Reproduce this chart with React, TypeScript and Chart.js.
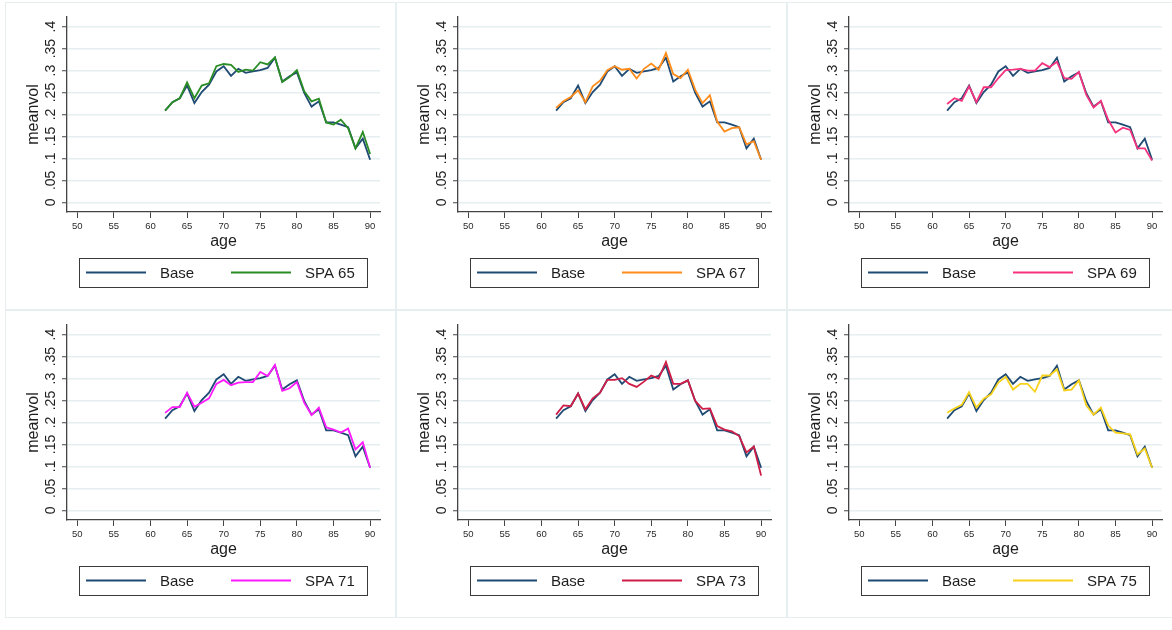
import React, { useEffect, useRef } from "react";
import { Chart, registerables } from "chart.js";

Chart.register(...registerables);

// ---------- data ----------
const AGES = [62, 63, 64, 65, 66, 67, 68, 69, 70, 71, 72, 73, 74, 75, 76, 77, 78, 79, 80, 81, 82, 83, 84, 85, 86, 87, 88, 89, 90];

const BASE = [0.209, 0.228, 0.237, 0.266, 0.226, 0.251, 0.268, 0.298, 0.31, 0.288, 0.304, 0.295, 0.298, 0.301, 0.306, 0.329, 0.275, 0.287, 0.296, 0.249, 0.218, 0.23, 0.182, 0.182, 0.177, 0.171, 0.123, 0.145, 0.097];
const SPA65 = [0.209, 0.228, 0.237, 0.273, 0.237, 0.266, 0.271, 0.31, 0.315, 0.313, 0.297, 0.302, 0.3, 0.319, 0.314, 0.33, 0.274, 0.285, 0.301, 0.253, 0.23, 0.236, 0.182, 0.177, 0.188, 0.169, 0.123, 0.16, 0.11];
const SPA67 = [0.215, 0.23, 0.24, 0.255, 0.228, 0.264, 0.277, 0.301, 0.31, 0.302, 0.304, 0.282, 0.304, 0.316, 0.302, 0.34, 0.292, 0.283, 0.302, 0.256, 0.226, 0.244, 0.184, 0.161, 0.169, 0.171, 0.132, 0.139, 0.097];
const SPA69 = [0.224, 0.237, 0.231, 0.264, 0.228, 0.262, 0.262, 0.283, 0.301, 0.302, 0.304, 0.3, 0.3, 0.317, 0.308, 0.32, 0.283, 0.281, 0.297, 0.245, 0.216, 0.231, 0.188, 0.159, 0.17, 0.165, 0.123, 0.123, 0.095];
const SPA71 = [0.222, 0.235, 0.235, 0.268, 0.236, 0.245, 0.255, 0.288, 0.297, 0.285, 0.291, 0.292, 0.292, 0.315, 0.306, 0.331, 0.272, 0.278, 0.292, 0.245, 0.217, 0.234, 0.189, 0.184, 0.177, 0.186, 0.139, 0.155, 0.097];
const SPA73 = [0.218, 0.239, 0.237, 0.266, 0.23, 0.255, 0.268, 0.297, 0.297, 0.301, 0.288, 0.281, 0.293, 0.307, 0.3, 0.338, 0.288, 0.288, 0.296, 0.249, 0.231, 0.232, 0.192, 0.184, 0.18, 0.169, 0.132, 0.145, 0.079];
const SPA75 = [0.222, 0.232, 0.24, 0.269, 0.234, 0.254, 0.264, 0.291, 0.304, 0.275, 0.288, 0.288, 0.27, 0.307, 0.307, 0.321, 0.273, 0.275, 0.296, 0.239, 0.218, 0.234, 0.193, 0.177, 0.175, 0.173, 0.127, 0.141, 0.097];

const SCENARIOS = ["SPA 65", "SPA 67", "SPA 69", "SPA 71", "SPA 73", "SPA 75"];
const SCENARIO_VALUES = [SPA65, SPA67, SPA69, SPA71, SPA73, SPA75];
const SCENARIO_COLORS = ["#2a8c25", "#ff8c1a", "#f5337f", "#ff1aff", "#cf1d48", "#f8d21a"];
const BASE_LABEL = "Base";
const BASE_COLOR = "#1f4a73";

const X_TICKS = [50, 55, 60, 65, 70, 75, 80, 85, 90];
const Y_TICKS = [0, 0.05, 0.1, 0.15, 0.2, 0.25, 0.3, 0.35, 0.4];
const Y_TICK_LABELS = ["0", ".05", ".1", ".15", ".2", ".25", ".3", ".35", ".4"];
const X_TITLE = "age";
const Y_TITLE = "meanvol";

const FONT = "'Liberation Sans', Arial, Helvetica, sans-serif";

// ---------- layout ----------
const PANEL_W = 391;
const PANEL_H = 308;
const CANVAS_W = PANEL_W - 2;
const CANVAS_H = PANEL_H - 2;

const decorPlugin = {
  id: "decor",
  afterDraw(chart: any) {
    const { ctx, chartArea, scales } = chart;
    const ys = scales.y;
    const o = chart.options.plugins.decor;
    ctx.save();
    ctx.fillStyle = "#1e1e1e";
    // y tick labels (rotated)
    ctx.font = `14px ${FONT}`;
    ctx.textAlign = "center";
    ctx.textBaseline = "middle";
    Y_TICKS.forEach((v, i) => {
      const py = ys.getPixelForValue(v);
      ctx.save();
      ctx.translate(chartArea.left - 16, py);
      ctx.rotate(-Math.PI / 2);
      ctx.fillText(Y_TICK_LABELS[i], 0, 0);
      ctx.restore();
    });
    // y title
    ctx.font = `16px ${FONT}`;
    ctx.save();
    ctx.translate(chartArea.left - 33, (chartArea.top + chartArea.bottom) / 2);
    ctx.rotate(-Math.PI / 2);
    ctx.fillText(Y_TITLE, 0, 0);
    ctx.restore();
    // x title
    const cx = (chartArea.left + chartArea.right) / 2;
    ctx.fillText(X_TITLE, cx, chartArea.bottom + 30);
    // legend
    const bx = chartArea.left + 12;
    const by = chartArea.bottom + 46;
    const bw = 288;
    const bh = 29;
    ctx.strokeStyle = "#3a3a3a";
    ctx.lineWidth = 1;
    ctx.strokeRect(Math.round(bx) + 0.5, Math.round(by) + 0.5, bw, bh);
    const ly = by + bh / 2;
    const items = [
      { text: BASE_LABEL, color: BASE_COLOR, x: bx + 7 },
      { text: o.label, color: o.color, x: bx + 152 },
    ];
    ctx.font = `15px ${FONT}`;
    ctx.textAlign = "left";
    items.forEach((it) => {
      ctx.strokeStyle = it.color;
      ctx.lineWidth = 1.8;
      ctx.beginPath();
      ctx.moveTo(it.x, ly);
      ctx.lineTo(it.x + 60, ly);
      ctx.stroke();
      ctx.fillStyle = "#1e1e1e";
      ctx.fillText(it.text, it.x + 74, ly + 1);
    });
    ctx.restore();
  },
};

function Panel({ idx }: { idx: number }) {
  const ref = useRef<HTMLCanvasElement | null>(null);
  useEffect(() => {
    const canvas = ref.current;
    if (!canvas) return;
    const toPts = (arr: number[]) => AGES.map((a, i) => ({ x: a, y: arr[i] }));
    const chart = new Chart(canvas, {
      type: "line",
      data: {
        datasets: [
          {
            label: SCENARIOS[idx],
            data: toPts(SCENARIO_VALUES[idx]),
            borderColor: SCENARIO_COLORS[idx],
            borderWidth: 1.8,
            pointRadius: 0,
            tension: 0,
            order: 0,
          },
          {
            label: BASE_LABEL,
            data: toPts(BASE),
            borderColor: BASE_COLOR,
            borderWidth: 1.8,
            pointRadius: 0,
            tension: 0,
            order: 1,
          },
        ],
      },
      options: {
        animation: false,
        responsive: false,
        devicePixelRatio: 1,
        layout: { padding: { left: 0, top: 14, right: 15, bottom: 72 } },
        plugins: {
          legend: { display: false },
          tooltip: { enabled: false },
          decor: { label: SCENARIOS[idx], color: SCENARIO_COLORS[idx] },
        } as any,
        scales: {
          x: {
            type: "linear",
            min: 48.6,
            max: 91.35,
            afterBuildTicks: (s: any) => {
              s.ticks = X_TICKS.map((v) => ({ value: v }));
            },
            afterFit: (s: any) => {
              s.height = 25;
            },
            ticks: {
              autoSkip: false,
              maxRotation: 0,
              minRotation: 0,
              padding: 3,
              color: "#2a2a2a",
              font: { family: FONT, size: 9.5 },
            },
            grid: {
              drawOnChartArea: false,
              drawTicks: true,
              tickLength: 6,
              tickColor: "#444",
              tickWidth: 1,
            },
            border: { color: "#444", width: 1.3 },
          },
          y: {
            type: "linear",
            min: -0.022,
            max: 0.422,
            afterBuildTicks: (s: any) => {
              s.ticks = Y_TICKS.map((v) => ({ value: v }));
            },
            afterFit: (s: any) => {
              s.width = 61;
            },
            ticks: { display: false },
            grid: {
              color: "#e5eef0",
              lineWidth: 1.5,
              drawTicks: true,
              tickLength: 5,
              tickColor: "#444",
              tickWidth: 1,
            },
            border: { color: "#444", width: 1.3 },
          },
        },
      },
      plugins: [decorPlugin],
    } as any);
    return () => chart.destroy();
  }, [idx]);
  const col = idx % 3;
  const row = Math.floor(idx / 3);
  return (
    <div
      style={{
        position: "absolute",
        left: 5 + col * PANEL_W,
        top: 2 + row * PANEL_H,
        width: PANEL_W,
        height: PANEL_H,
        boxSizing: "border-box",
        border: "1px solid #e6eef0",
        background: "#fff",
      }}
    >
      <canvas ref={ref} width={CANVAS_W} height={CANVAS_H} style={{ display: "block", width: CANVAS_W, height: CANVAS_H }} />
    </div>
  );
}

export default function App() {
  return (
    <div
      style={{
        position: "fixed",
        left: 0,
        top: 0,
        width: 1172,
        height: 630,
        overflow: "hidden",
        background: "#fff",
      }}
    >
      {SCENARIOS.map((_, i) => (
        <Panel key={i} idx={i} />
      ))}
    </div>
  );
}
